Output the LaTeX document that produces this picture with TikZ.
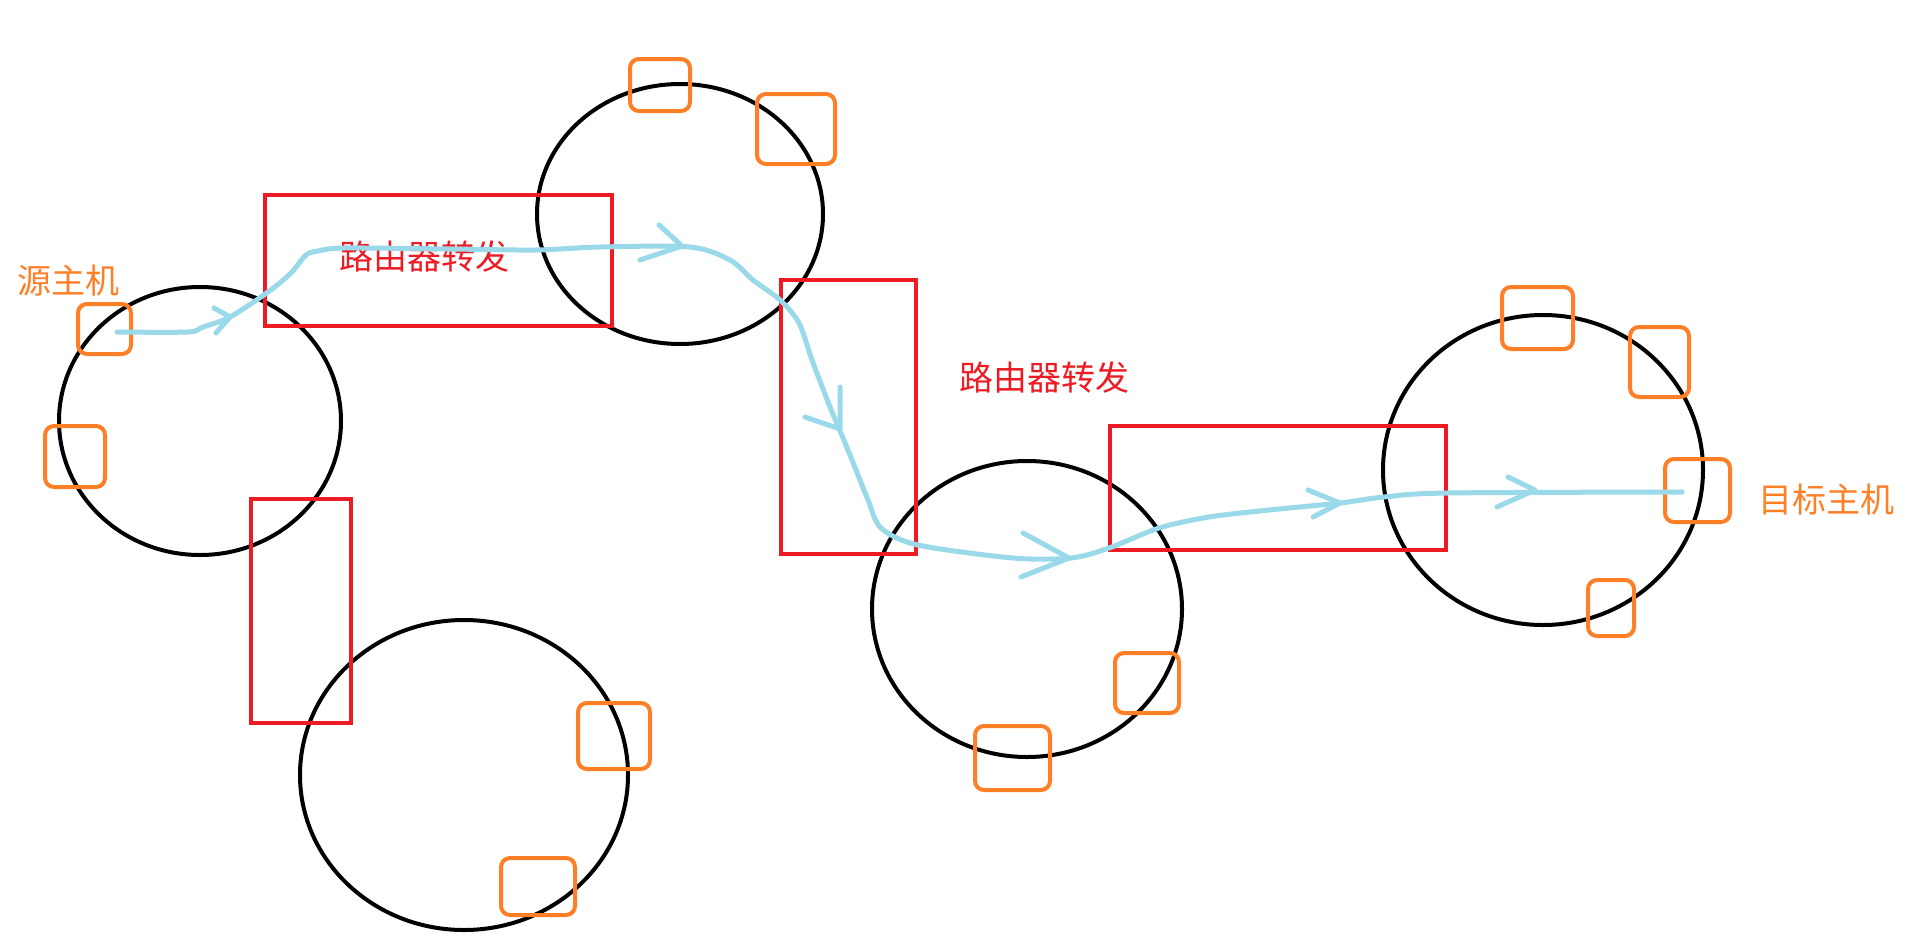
\documentclass[tikz,border=0pt]{standalone}
\usepackage{fontspec}
\newfontfamily\cjk{Noto Sans CJK SC}
\definecolor{netblack}{HTML}{000000}
\definecolor{routerred}{HTML}{ED1C24}
\definecolor{hostorange}{HTML}{FF7F27}
\definecolor{pathblue}{HTML}{99D9EA}
\tikzset{
  net/.style={draw=netblack, line width=4pt},
  router/.style={draw=routerred, line width=4.5pt},
  host/.style={draw=hostorange, line width=4pt, rounded corners=9pt},
  route/.style={draw=pathblue, line width=5pt, line cap=round, line join=round},
  lbl/.style={inner sep=0pt, font=\cjk\fontsize{34pt}{36pt}\selectfont},
}
\begin{document}
\begin{tikzpicture}[x=1pt,y=-1pt]
\useasboundingbox[fill=white] (0,0) rectangle (1909,948);
% networks
\draw[net] (200,421) ellipse [x radius=141, y radius=134];
\draw[net] (464,775) ellipse [x radius=164, y radius=155];
\draw[net] (680,214) ellipse [x radius=143, y radius=130];
\draw[net] (1027,609) ellipse [x radius=155, y radius=148];
\draw[net] (1543,470) ellipse [x radius=160, y radius=155];
% routers
\draw[router] (265,195) rectangle (612,326);
\draw[router] (781,280) rectangle (916,554);
\draw[router] (1110,426) rectangle (1446,550);
\draw[router] (251,499) rectangle (351,723);
% hosts
\draw[host] (78,304) rectangle (131,354);
\draw[host] (45,426) rectangle (105,487);
\draw[host] (630,59) rectangle (690,111);
\draw[host] (757,94) rectangle (835,164);
\draw[host] (578,703) rectangle (650,769);
\draw[host] (501,858) rectangle (575,915);
\draw[host] (1115,653) rectangle (1179,713);
\draw[host] (975,726) rectangle (1050,790);
\draw[host] (1502,287) rectangle (1573,349);
\draw[host] (1630,327) rectangle (1689,397);
\draw[host] (1665,459) rectangle (1730,522);
\draw[host] (1588,580) rectangle (1634,636);
% labels
\node[lbl, text=hostorange] (srclbl) at (68,281) {源主机};
\node[lbl, text=routerred] (fwd1) at (424,257) {路由器转发};
\node[lbl, text=routerred] (fwd2) at (1044,378) {路由器转发};
\node[lbl, text=hostorange] (dstlbl) at (1826,500) {目标主机};
% route
\coordinate (src) at (117,332);
\coordinate (dst) at (1682,492);
\draw[route] plot[smooth, tension=0.5] coordinates {
 (117,332) (188,332) (203,327) (230,317) (268,292) (291,273) (306,255) (318,251)
 (344,248) (450,249) (536,250) (600,247) (690,247) (730,260) (753,280) (780,300)
 (799,323) (812,360) (830,407) (841,433) (856,470) (868,500) (881,528) (918,545)
 (1013,558) (1071,558) (1109,548) (1159,528) (1209,517) (1269,510) (1340,503)
 (1384,497) (1447,493) (1682,492)};
% arrow chevrons
\draw[route] (214,308) -- (230,317) -- (216,333);
\draw[route] (659,225) -- (682,246) -- (640,260);
\draw[route] (840,387) -- (840,429) -- (805,417);
\draw[route] (1023,533) -- (1069,558) -- (1021,577);
\draw[route] (1308,490) -- (1340,503) -- (1313,517);
\draw[route] (1508,477) -- (1535,490) -- (1497,507);
\end{tikzpicture}
\end{document}
